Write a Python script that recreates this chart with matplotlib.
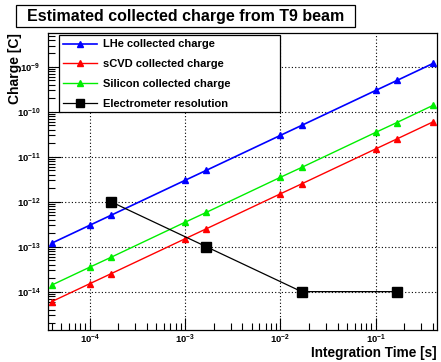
import matplotlib
matplotlib.use("Agg")
import matplotlib.pyplot as plt
from matplotlib.ticker import LogLocator, NullFormatter, FixedLocator
from matplotlib.patches import Rectangle
import numpy as np

plt.rcParams['font.family'] = ['Liberation Sans', 'DejaVu Sans']
plt.rcParams['mathtext.fontset'] = 'custom'
plt.rcParams['mathtext.rm'] = 'Liberation Sans:bold'
plt.rcParams['mathtext.bf'] = 'Liberation Sans:bold'
plt.rcParams['mathtext.default'] = 'rm'

# Data
time_s = [4e-5, 1e-4, 1.67e-4, 1e-3, 1.67e-3, 1e-2, 1.67e-2, 1e-1, 1.67e-1, 4e-1]
lhe_charge = [1.2e-13, 3e-13, 5e-13, 3e-12, 5e-12, 3e-11, 5e-11, 3e-10, 5e-10, 1.2e-9]
scvd_charge = [6e-15, 1.5e-14, 2.5e-14, 1.5e-13, 2.5e-13, 1.5e-12, 2.5e-12, 1.5e-11, 2.5e-11, 6e-11]
silicon_charge = [1.4e-14, 3.5e-14, 5.8e-14, 3.5e-13, 5.8e-13, 3.5e-12, 5.8e-12, 3.5e-11, 5.8e-11, 1.4e-10]
elec_time = [1.67e-4, 1.67e-3, 1.67e-2, 1.67e-1]
elec_res = [1e-12, 1e-13, 1e-14, 1e-14]

xticks = [1e-4, 1e-3, 1e-2, 1e-1]
xticklabels = ['$10^{-4}$', '$10^{-3}$', '$10^{-2}$', '$10^{-1}$']
yticks = [1e-14, 1e-13, 1e-12, 1e-11, 1e-10, 1e-9]
yticklabels = ['$10^{-14}$', '$10^{-13}$', '$10^{-12}$', '$10^{-11}$', '$10^{-10}$', '$10^{-9}$']

W, H = 441, 362
fig = plt.figure(figsize=(W/100, H/100), dpi=100)
ax = fig.add_axes([48/W, 1 - 330/H, (437-48)/W, (330-33)/H])

ax.plot(time_s, lhe_charge, color='#0000ff', lw=1.2, marker='^', ms=4.5, label='LHe collected charge', zorder=3)
ax.plot(time_s, scvd_charge, color='#ff0000', lw=1.0, marker='^', ms=4.5, label='sCVD collected charge', zorder=3)
ax.plot(time_s, silicon_charge, color='#00ee00', lw=1.0, marker='^', ms=4.5, label='Silicon collected charge', zorder=3)
ax.plot(elec_time, elec_res, color='black', lw=0.9, marker='s', ms=6.5, label='Electrometer resolution', zorder=3)

ax.set_xscale('log')
ax.set_yscale('log')
ax.set_xlim(3.65e-5, 0.44)
ax.set_ylim(1.4e-15, 5.7e-9)

ax.xaxis.set_major_locator(FixedLocator(xticks))
ax.set_xticklabels(xticklabels)
ax.yaxis.set_major_locator(FixedLocator(yticks))
ax.set_yticklabels(yticklabels)
ax.xaxis.set_minor_locator(LogLocator(base=10, subs=np.arange(2, 10), numticks=20))
ax.yaxis.set_minor_locator(LogLocator(base=10, subs=np.arange(2, 10), numticks=20))
ax.xaxis.set_minor_formatter(NullFormatter())
ax.yaxis.set_minor_formatter(NullFormatter())

ax.tick_params(which='both', direction='in', top=False, right=False, labelsize=6.8, width=0.8)
ax.tick_params(axis='x', which='major', length=9, pad=2.2)
ax.tick_params(axis='y', which='major', length=9, pad=5.5)
ax.tick_params(which='minor', length=5)

ax.grid(True, which='major', color='black', linestyle=(0, (1, 2)), lw=0.8)
for s in ax.spines.values():
    s.set_linewidth(0.9)

fig.text(15/W, 1 - 69/H, 'Charge [C]', rotation=90, ha='center', va='center',
         fontsize=10, fontweight='bold')
fig.text(437/W, 1 - 357/H, 'Integration Time [s]', ha='right', va='baseline',
         fontsize=9.8, fontweight='bold')

# legend box (fixed size like ROOT)
ax.add_patch(Rectangle((59/W, 1 - 112/H), (280-59)/W, (112-35)/H, transform=fig.transFigure,
                       facecolor='white', edgecolor='black', lw=0.9, zorder=5, clip_on=False))
leg = ax.legend(loc='upper left', bbox_to_anchor=(59/W, 1 - 35/H), bbox_transform=fig.transFigure,
                frameon=False, handlelength=3.0, handletextpad=0.6, borderpad=0.4, borderaxespad=0,
                labelspacing=0.88, prop={'weight': 'bold', 'size': 8}, markerscale=0.9)
leg.set_zorder(6)

fig.patches.append(Rectangle((16/W, 1 - 27/H), (355-16)/W, (27-5)/H, transform=fig.transFigure,
                             facecolor='white', edgecolor='black', lw=0.9))
fig.text(185.5/W, 1 - 16/H, 'Estimated collected charge from T9 beam', ha='center', va='center',
         fontsize=11.5, fontweight='bold')

fig.savefig('out.png', dpi=100)
